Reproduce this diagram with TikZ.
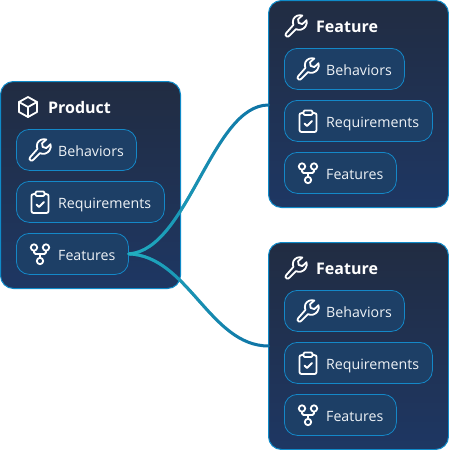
\documentclass[tikz,border=0pt]{standalone}
\usepackage{fontspec}
\setmainfont{Open Sans}
\usetikzlibrary{calc,fadings}
\definecolor{cardtop}{HTML}{212C42}
\definecolor{cardbot}{HTML}{1E3763}
\definecolor{cardedge}{HTML}{0F8AC8}
\definecolor{chipfill}{HTML}{1D3F66}
\definecolor{chipedge}{HTML}{1488C8}
\definecolor{wiredark}{HTML}{0E70A4}
\definecolor{wirelight}{HTML}{22AFC0}
\definecolor{txt}{HTML}{EEF2F6}
\tikzfading[name=wirefade,left color=transparent!0,middle color=transparent!15,right color=transparent!100]
\tikzset{
 x=1pt,y=-1pt,
 card/.style={draw=cardedge,line width=1pt,rounded corners=13pt,top color=cardtop,bottom color=cardbot,inner sep=0pt,outer sep=0pt,minimum height=#1},
 chip/.style={draw=chipedge,line width=0.8pt,rounded corners=13pt,fill=chipfill,inner sep=0pt,minimum height=41pt},
 chiptext/.style={text=txt,font=\fontsize{14.2}{16}\selectfont,anchor=base west,inner sep=0pt},
 headtext/.style={text=white,font=\fontsize{16}{18}\selectfont\bfseries,anchor=base west,inner sep=0pt},
 icon/.style={draw=white,line width=1.8pt,line cap=round,line join=round,fill=none},
 wire/.style={line width=3pt,line cap=round},
 wiretop/.style={wire,wirelight,path fading=wirefade,fit fading=true}
}
\newcommand{\wrenchicon}[1]{\begin{scope}[shift={#1},scale=1.05]
 \draw[icon] (-9.5,7) .. controls (-10.5,8) and (-10,9.5) .. (-8.8,10) .. controls (-7.8,10.5) and (-7,10) .. (-6,9) -- (0,3) .. controls (3,4.5) and (7,3.5) .. (9,0.5) .. controls (10.5,-1.5) and (10.5,-4) .. (10,-5.5) -- (6,-1.8) -- (2.5,-3) -- (2,-6.5) -- (6,-10) .. controls (2.5,-11) and (-1,-9.5) .. (-2.5,-6.5) .. controls (-3.3,-4.5) and (-3,-2.5) .. (-2.5,-1) -- cycle;
\end{scope}}
\newcommand{\clipicon}[1]{\begin{scope}[shift={#1}]
 \draw[icon] (-4.5,-8) -- (-6,-8) .. controls (-8,-8) and (-8.5,-7) .. (-8.5,-6) -- (-8.5,9) .. controls (-8.5,10.3) and (-7.5,11) .. (-6.5,11) -- (6.5,11) .. controls (7.5,11) and (8.5,10.3) .. (8.5,9) -- (8.5,-6) .. controls (8.5,-7) and (8,-8) .. (6,-8) -- (4.5,-8);
 \draw[icon,rounded corners=1.2pt] (-4.5,-10.5) rectangle (4.5,-6);
 \draw[icon,line width=1.9pt] (-3.5,2.5) -- (-1,5) -- (4,0);
\end{scope}}
\newcommand{\forkicon}[1]{\begin{scope}[shift={#1}]
 \draw[icon] (-6,-6.5) circle (3.2) (6,-6.5) circle (3.2) (0,7) circle (3.2);
 \draw[icon] (-6,-3.3) -- (-6,-1.5) .. controls (-6,-0.5) and (-5.5,0) .. (-4.5,0) -- (4.5,0) .. controls (5.5,0) and (6,-0.5) .. (6,-1.5) -- (6,-3.3);
 \draw[icon] (0,0) -- (0,3.8);
\end{scope}}
\newcommand{\boxicon}[1]{\begin{scope}[shift={#1}]
 \draw[icon] (0,-10) -- (9,-5) -- (9,5) -- (0,10) -- (-9,5) -- (-9,-5) -- cycle;
 \draw[icon] (-9,-5) -- (0,0) -- (9,-5) (0,0) -- (0,10);
\end{scope}}
\newcommand{\chips}[3]{%
 \node[chip,minimum width=120pt,anchor=north west] (#1b) at (#2+16,#3+48) {};
 \node[chip,minimum width=148pt,anchor=north west] (#1r) at (#2+16,#3+100) {};
 \node[chip,minimum width=112pt,anchor=north west] (#1f) at (#2+16,#3+152) {};
 \wrenchicon{(#2+40,#3+69)}
 \clipicon{(#2+40,#3+121)}
 \forkicon{(#2+40,#3+173)}
 \node[chiptext] (#1bt) at (#2+58,#3+75) {Behaviors};
 \node[chiptext] (#1rt) at (#2+58,#3+127) {Requirements};
 \node[chiptext] (#1ft) at (#2+58,#3+179) {Features};
}
\begin{document}
\begin{tikzpicture}
\useasboundingbox (0,0) rectangle (449,450);
\node[card=207pt,minimum width=180pt,anchor=north west] (p) at (0.5,81.5) {};
\node[card=207pt,minimum width=180pt,anchor=north west] (f1) at (268.5,0.5) {};
\node[card=207pt,minimum width=180pt,anchor=north west] (f2) at (268.5,242.5) {};
\boxicon{(28,107)}
\node[headtext] (pt) at (48,113) {Product};
\wrenchicon{(296,26)}
\node[headtext] (f1t) at (316,32) {Feature};
\wrenchicon{(296,268)}
\node[headtext] (f2t) at (316,274) {Feature};
\chips{p}{0}{81}
\chips{a}{268}{0}
\chips{c}{268}{242}
\coordinate (e1) at (f1.west |- 0,105);
\coordinate (e2) at (f2.west |- 0,346);
\draw[wire,wiredark] (pf.east) .. controls (188,250) and (212,105) .. (e1);
\draw[wire,wiredark] (pf.east) .. controls (188,256) and (210,346) .. (e2);
\draw[wiretop] (pf.east) .. controls (188,250) and (212,105) .. (e1);
\draw[wiretop] (pf.east) .. controls (188,256) and (210,346) .. (e2);
\end{tikzpicture}
\end{document}
